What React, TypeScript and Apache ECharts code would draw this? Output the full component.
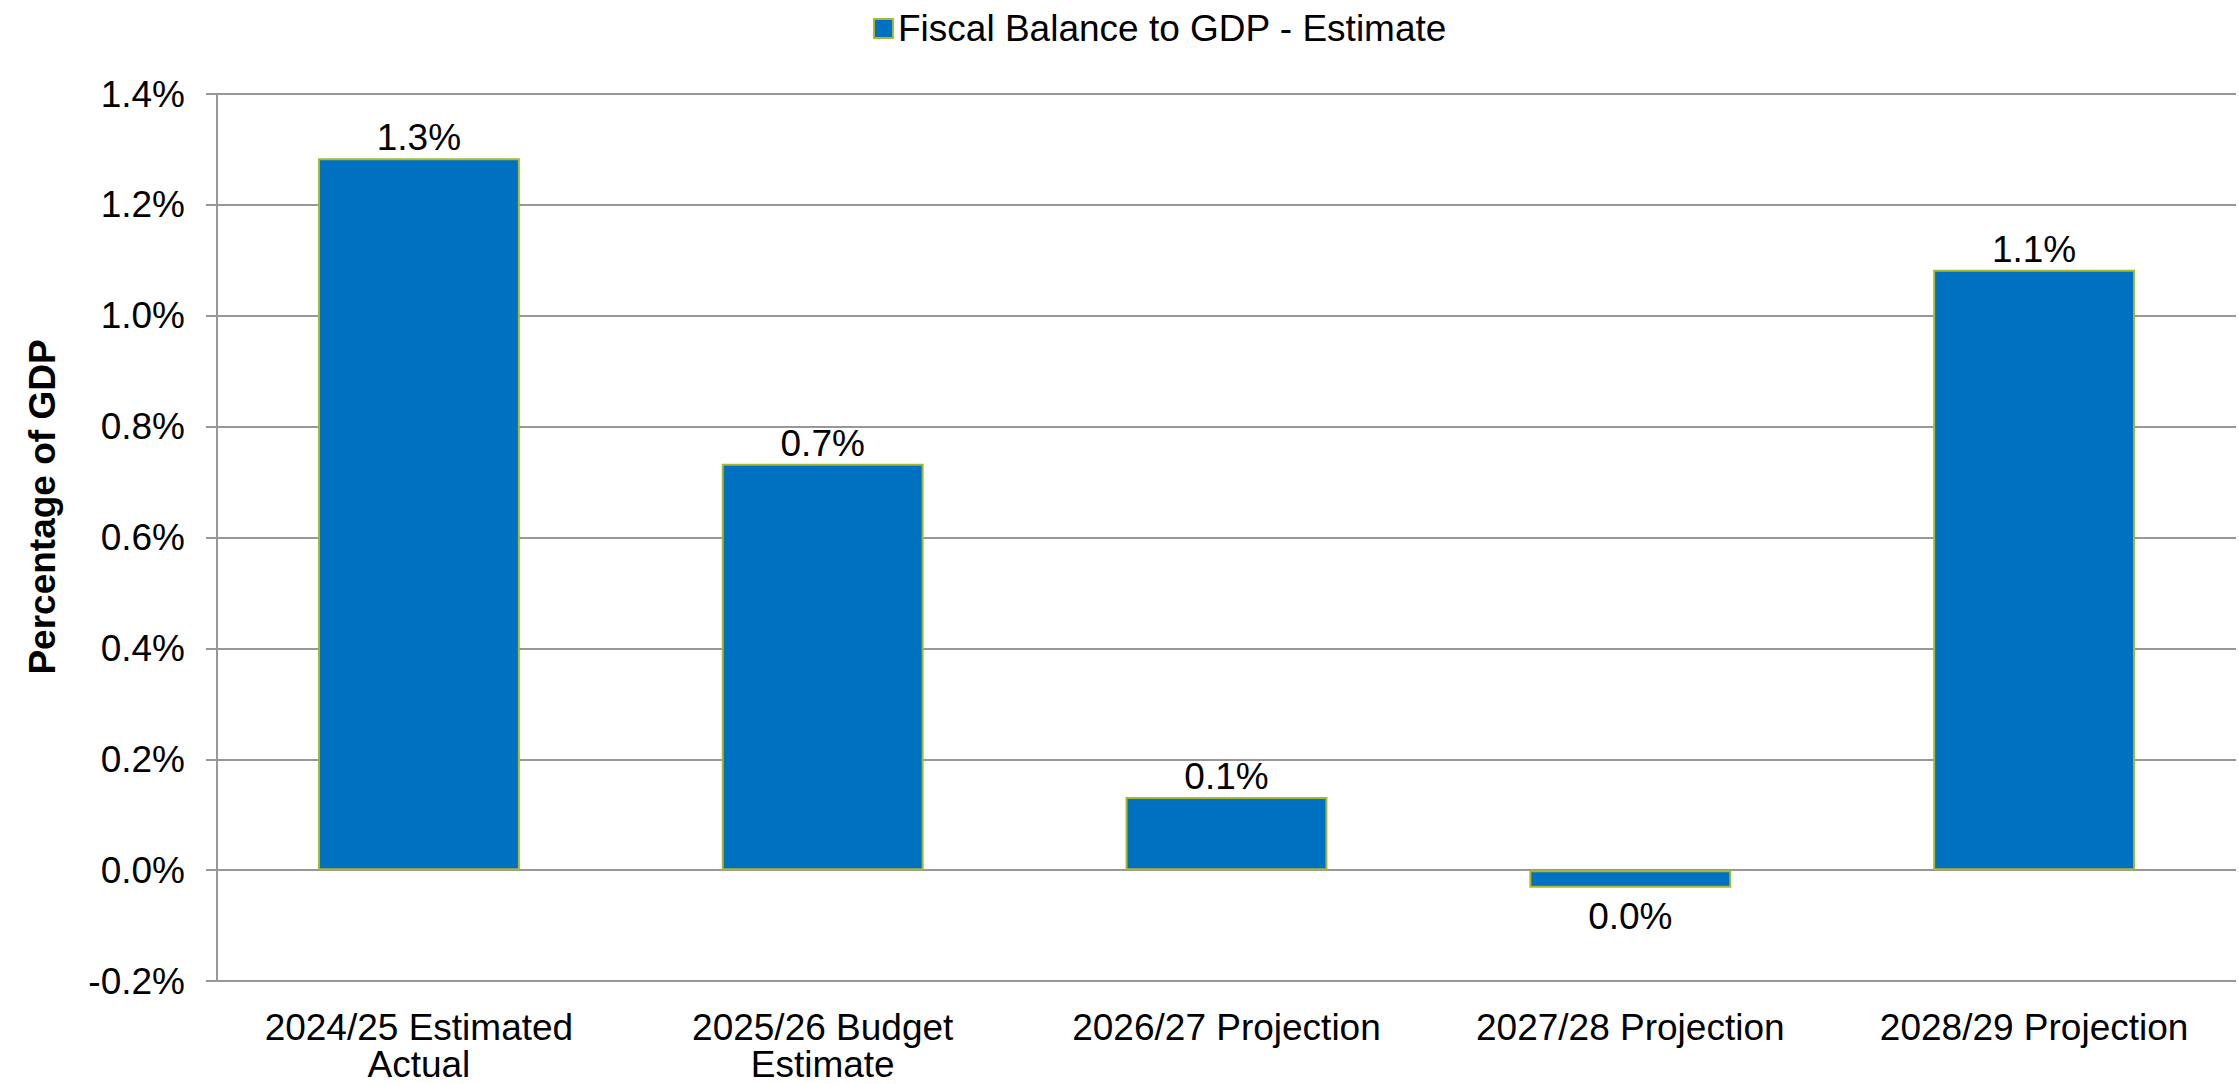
import React, { useEffect, useRef } from "react";
import * as echarts from "echarts";

const categories = [
  "2024/25 Estimated\nActual",
  "2025/26 Budget\nEstimate",
  "2026/27 Projection",
  "2027/28 Projection",
  "2028/29 Projection",
];
const fiscalBalance = [1.284, 0.733, 0.132, -0.032, 1.083];
const seriesName = "Fiscal Balance to GDP - Estimate";
const yAxisTitle = "Percentage of GDP";

const FONT = "'Liberation Sans', Arial, sans-serif";
const FS = 37;

export default function App() {
  const ref = useRef<HTMLDivElement>(null);
  useEffect(() => {
    document.body.style.margin = "0";
    if (!ref.current) return;
    const chart = echarts.init(ref.current, undefined, { renderer: "svg" });
    const fmt = (v: number) => {
      const s = (Math.round(v * 10) / 10).toFixed(1);
      return (s === "-0.0" ? "0.0" : s) + "%";
    };
    chart.setOption({
      animation: false,
      backgroundColor: "#ffffff",
      textStyle: { fontFamily: FONT },
      legend: {
        top: 5,
        left: 868,
        itemWidth: 19,
        itemHeight: 19,
        itemGap: 6,
        icon: "rect",
        textStyle: { fontSize: FS, color: "#000", fontFamily: FONT },
        data: [seriesName],
      },
      grid: { left: 217, right: 3, top: 94, bottom: 103, containLabel: false },
      xAxis: {
        type: "category",
        data: categories,
        axisLine: { show: false },
        axisTick: { show: false },
        axisLabel: {
          fontSize: FS,
          lineHeight: 37,
          color: "#000",
          margin: 28,
          fontFamily: FONT,
          interval: 0,
        },
      },
      yAxis: {
        type: "value",
        min: -0.2,
        max: 1.4,
        interval: 0.2,
        axisLine: { show: true, lineStyle: { color: "#989898", width: 2 } },
        axisTick: { show: true, length: 11, lineStyle: { color: "#989898", width: 2 } },
        splitLine: { show: true, lineStyle: { color: "#989898", width: 2 } },
        axisLabel: {
          fontSize: FS,
          color: "#000",
          margin: 32,
          fontFamily: FONT,
          formatter: (v: number) => fmt(v),
        },
      },
      graphic: [
        {
          type: "text",
          x: 42,
          y: 507,
          rotation: Math.PI / 2,
          style: {
            text: yAxisTitle,
            fontSize: FS,
            fontWeight: "bold",
            fontFamily: FONT,
            fill: "#000",
            align: "center",
            verticalAlign: "middle",
          },
        },
      ],
      series: [
        {
          name: seriesName,
          type: "bar",
          barWidth: "50%",
          itemStyle: { color: "#0070C0", borderColor: "#A9B92F", borderWidth: 2 },
          label: {
            show: true,
            position: "top",
            distance: 2,
            fontSize: FS,
            color: "#000",
            fontFamily: FONT,
            formatter: (p: any) => fmt(p.value),
          },
          data: fiscalBalance.map((v) =>
            v < 0 ? { value: v, label: { position: "bottom", distance: 10 } } : v
          ),
        },
      ],
    });
    return () => chart.dispose();
  }, []);
  return <div ref={ref} style={{ width: 2239, height: 1084 }} />;
}
